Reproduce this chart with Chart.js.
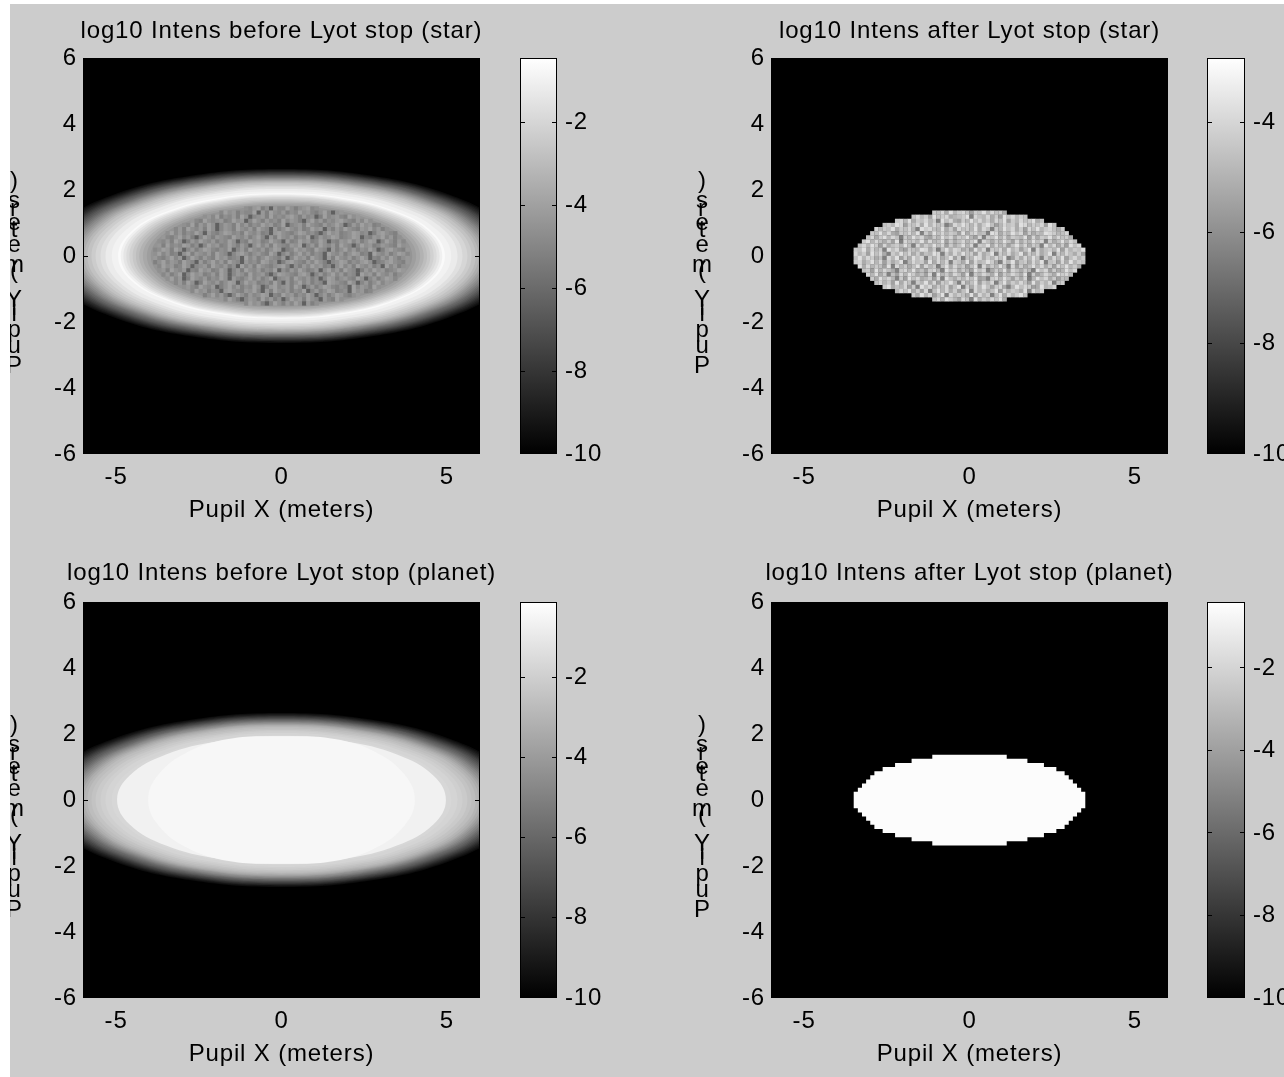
<!DOCTYPE html>
<html>
<head>
<meta charset="utf-8">
<title>Lyot stop pupil intensities</title>
<script src="https://cdn.jsdelivr.net/npm/chart.js@4"></script>
<style>
  html, body { margin: 0; background: #fff; overflow: hidden; }
  #fig { position: absolute; left: 10px; top: 4px; width: 1274px; height: 1073px; background: #ccc; overflow: hidden; }
  canvas { position: absolute; }
</style>
</head>
<body>
<div id="fig"></div>
<script>
// ---- axis ticks ----
const pupilXTicks = [-5, 0, 5];
const pupilYTicks = [-6, -4, -2, 0, 2, 4, 6];
const barTicksWide = [-2, -4, -6, -8, -10];
const barTicksStarAfter = [-4, -6, -8, -10];

// ---- colour range (log10 intensity) of each panel ----
const starBeforeMax = -0.44;
const starAfterMax = -2.84;
const planetBeforeMax = -0.13;
const planetAfterMax = -0.4;
const rangeMin = -10;

// ---- titles ----
const panelTitles = [
  'log10 Intens before Lyot stop (star)',
  'log10 Intens after Lyot stop (star)',
  'log10 Intens before Lyot stop (planet)',
  'log10 Intens after Lyot stop (planet)'
];
const xAxisTitle = 'Pupil X (meters)';
// y label: upright letters stacked over each other, baseline offset from y=0 in px
const yLabelChars = ['P', 'u', 'p', 'i', 'l', 'Y', '(', 'm', 'e', 't', 'e', 'r', 's', ')'];
const yLabelOffsets = [117, 97, 81, 65, 59, 51, 22, 16, -4, -19, -26, -40, -48, -68];

// ---- halo contours before the stop: quarter outlines, top (x=0) to tip (y=0), metres ----
const haloX = [
  [0, 2.74, 5.06, 6.61, 7.15],
  [0, 2.715, 5.01, 6.55, 7.085],
  [0, 2.69, 4.96, 6.49, 7.02],
  [0, 2.665, 4.91, 6.425, 6.95],
  [0, 2.64, 4.86, 6.36, 6.88],
  [0, 2.615, 4.815, 6.3, 6.815],
  [0, 2.59, 4.77, 6.24, 6.75],
  [0, 2.56, 4.72, 6.175, 6.68],
  [0, 2.53, 4.67, 6.11, 6.61],
  [0, 2.505, 4.625, 6.05, 6.545],
  [0, 2.48, 4.58, 5.99, 6.48],
  [0, 2.455, 4.53, 5.925, 6.41],
  [0, 2.43, 4.48, 5.86, 6.34],
  [0, 2.4, 4.43, 5.79, 6.265],
  [0, 2.37, 4.38, 5.72, 6.19],
  [0, 2.345, 4.33, 5.655, 6.12],
  [0, 2.32, 4.28, 5.59, 6.05],
  [0, 2.285, 4.215, 5.505, 5.96],
  [0, 2.25, 4.15, 5.42, 5.87],
  [0, 2.2, 4.06, 5.305, 5.745],
  [0, 2.15, 3.97, 5.19, 5.62],
  [0, 2.095, 3.865, 5.055, 5.47],
  [0, 2.04, 3.76, 4.92, 5.32],
  [0, 1.965, 3.625, 4.74, 5.13],
  [0, 1.89, 3.49, 4.56, 4.94]
];
const haloY = [
  [2.635, 2.43, 1.86, 1.01, 0],
  [2.61, 2.41, 1.845, 1.0, 0],
  [2.59, 2.39, 1.83, 0.99, 0],
  [2.57, 2.37, 1.815, 0.98, 0],
  [2.545, 2.35, 1.80, 0.97, 0],
  [2.52, 2.33, 1.785, 0.965, 0],
  [2.5, 2.31, 1.77, 0.96, 0],
  [2.48, 2.29, 1.755, 0.95, 0],
  [2.455, 2.27, 1.74, 0.94, 0],
  [2.43, 2.25, 1.72, 0.93, 0],
  [2.41, 2.23, 1.70, 0.92, 0],
  [2.39, 2.21, 1.685, 0.915, 0],
  [2.365, 2.19, 1.67, 0.91, 0],
  [2.34, 2.165, 1.655, 0.90, 0],
  [2.32, 2.14, 1.64, 0.89, 0],
  [2.295, 2.12, 1.62, 0.88, 0],
  [2.27, 2.10, 1.60, 0.87, 0],
  [2.24, 2.07, 1.58, 0.86, 0],
  [2.21, 2.04, 1.56, 0.85, 0],
  [2.17, 2.0, 1.53, 0.83, 0],
  [2.125, 1.96, 1.50, 0.81, 0],
  [2.08, 1.92, 1.47, 0.795, 0],
  [2.03, 1.88, 1.44, 0.78, 0],
  [1.965, 1.82, 1.39, 0.755, 0],
  [1.9, 1.76, 1.34, 0.73, 0]
];
const starHaloLevels = [-9.52, -9.19, -8.85, -8.47, -8.09, -7.71, -7.32, -6.94, -6.56, -6.18, -5.79, -5.41, -5.03,
  -4.65, -4.26, -3.88, -3.5, -3.12, -2.73, -2.35, -1.97, -1.59, -1.2, -0.92, -0.63];
const planetHaloLevels = [-9.51, -9.16, -8.82, -8.42, -8.03, -7.63, -7.24, -6.84, -6.45, -6.05, -5.66, -5.26, -4.87,
  -4.47, -4.08, -3.68, -3.29, -2.99, -2.7, -2.45, -2.2, -2.0, -1.81, -1.66, -1.51];

// fall-off inside the bright star ring
const starInnerX = [
  [0, 1.86, 3.44, 4.49, 4.86],
  [0, 1.83, 3.38, 4.42, 4.78],
  [0, 1.80, 3.32, 4.33, 4.69],
  [0, 1.76, 3.25, 4.25, 4.6],
  [0, 1.72, 3.18, 4.16, 4.5],
  [0, 1.69, 3.11, 4.07, 4.4],
  [0, 1.65, 3.04, 3.97, 4.3],
  [0, 1.60, 2.96, 3.87, 4.19],
  [0, 1.56, 2.88, 3.76, 4.07],
  [0, 1.51, 2.79, 3.65, 3.95]
];
const starInnerY = [
  [1.87, 1.73, 1.32, 0.72, 0],
  [1.84, 1.70, 1.30, 0.70, 0],
  [1.805, 1.67, 1.28, 0.69, 0],
  [1.77, 1.64, 1.25, 0.68, 0],
  [1.73, 1.60, 1.22, 0.66, 0],
  [1.69, 1.56, 1.19, 0.65, 0],
  [1.65, 1.52, 1.17, 0.63, 0],
  [1.61, 1.49, 1.14, 0.62, 0],
  [1.565, 1.45, 1.11, 0.60, 0],
  [1.52, 1.40, 1.07, 0.58, 0]
];
const starInnerLevels = [-1.01, -1.4, -1.78, -2.16, -2.54, -2.93, -3.31, -3.69, -4.07, -4.46];

// flat top of the planet image
const planetInnerX = [
  [0, 1.9, 3.51, 4.59, 4.97],
  [0, 1.6, 2.85, 3.72, 4.03]
];
const planetInnerY = [
  [1.93, 1.78, 1.37, 0.74, 0],
  [1.93, 1.85, 1.45, 0.77, 0]
];
const planetInnerLevels = [-0.67, -0.43];

// ---- after the stop: half width of the open stop per 0.125 m row, from y=0 upward ----
const lyotHalfWidths = [3.5, 3.5, 3.375, 3.25, 3.125, 3.0, 2.875, 2.625, 2.25, 1.75, 1.125];
const planetAfterLevel = -0.5;

// ---- star residual speckle, 0.125 m cells, top row first, digit d = log10 -6.4 + 0.3 d ----
const speckleAfterRows = [
  '768495786376958674',
  '6857396784567908658473968576',
  '785947685709684375968574869375867946',
  '675983768495867038697584796358674985768396',
  '8576947685097865947386759486075968473869578647',
  '769584376859074968576394785609847596837465987568',
  '68479586075968437596847695380769584765938476958674',
  '7958647390867594856937468579086475963847596807469586',
  '685973846759608475968374695807694857369584760958473968',
  '76948570968437659847069587463958076849573690846759385769',
  '85739684075968473659807485967384690758469375846907586473',
  '69587460859374968075846937065984758690374859607485936857',
  '78469583746905867394858076493856974085936748590673849576',
  '948576390857469385706948573690847596083746958473869574',
  '6739586407859463785096847539680475938647509683745968',
  '85947063859746380957486390758649375864907358649785',
  '749685073968457380964758693407859637480596847365',
  '6857394860759483769508469375806947586394758067',
  '794658370968475836907485963784059687349568',
  '586947380695847369085746938576490857',
  '7495836908576493857069485796',
  '684975386094758694'
];
const speckleBeforeRows = [
  '657846075586467856',
  '586746558074865746586754685067',
  '67584657486056748565786475604856754867',
  '75486567458670586475648576406857465786547586',
  '658475860576485746586745805674865475686047586745',
  '5748657486057648657486507468657458670647586547685746',
  '68574658607546875648657450786546875640586745687560478654',
  '7546857405864765486574685074865746580475687456870547685746',
  '657486047586574658605486745865074586745860547685746870586475',
  '748565874605867458647506857486547680574865748650586745765486',
  '56874860574687546580574865746870458675486507468574658604786547',
  '68574506847657486505786467548605746857465086574687450865746875',
  '75468570586475486745608574686547058674865074865746860547586467',
  '46857648650746857486507564875604786547586405687465786045786547',
  '586745860567486574608574865467850647586745068574865746085746',
  '674865705486745860574865746580647586457068574865047586745687',
  '5746805867457486057648567405876547860574685746508674865746',
  '68570486574658607546857468056748657460587467548605746875',
  '5748604865746870586745648507468574650876548605746857',
  '675486570468574658604785674860574687546508576486',
  '58674650786547685074865746580574687456086745',
  '46857405864756870548674658605746875467',
  '758640576485746058674865075486',
  '586740586475860746'
];

// ---- helpers ----
function levelToGray(level, max) {
  const t = Math.min(1, Math.max(0, (level - rangeMin) / (max - rangeMin)));
  const g = Math.round(t * 255);
  return `rgb(${g}, ${g}, ${g})`;
}

// mirror a quarter outline into a loop; one point of overlap at each end keeps the top smooth
function quarterToLoop(xs, ys) {
  const n = xs.length;
  const pts = [{ x: -xs[1], y: ys[1] }];
  for (let i = 0; i < n; i++) pts.push({ x: xs[i], y: ys[i] });
  for (let i = n - 2; i >= 0; i--) pts.push({ x: xs[i], y: -ys[i] });
  for (let i = 1; i < n; i++) pts.push({ x: -xs[i], y: -ys[i] });
  for (let i = n - 2; i >= 0; i--) pts.push({ x: -xs[i], y: ys[i] });
  pts.push({ x: xs[1], y: ys[1] });
  return pts;
}

function stopOutline(widths) {
  const s = 0.125;
  const n = widths.length;
  const pts = [];
  for (let i = n - 1; i >= 0; i--) pts.push({ x: widths[i], y: (i + 1) * s }, { x: widths[i], y: i * s });
  for (let i = 0; i < n; i++) pts.push({ x: widths[i], y: -i * s }, { x: widths[i], y: -(i + 1) * s });
  for (let i = n - 1; i >= 0; i--) pts.push({ x: -widths[i], y: -(i + 1) * s }, { x: -widths[i], y: -i * s });
  for (let i = 0; i < n; i++) pts.push({ x: -widths[i], y: i * s }, { x: -widths[i], y: (i + 1) * s });
  return pts;
}

function shapeDataset(points, level, max, tension) {
  return {
    data: points,
    showLine: true,
    fill: 'shape',
    backgroundColor: levelToGray(level, max),
    borderWidth: 0,
    pointRadius: 0,
    tension: tension
  };
}

function backgroundDataset(max) {
  const pts = [{ x: -6, y: 6 }, { x: 6, y: 6 }, { x: 6, y: -6 }, { x: -6, y: -6 }];
  return shapeDataset(pts, rangeMin, max, 0);
}

function speckleDataset(rows, max) {
  const pts = [];
  const colors = [];
  rows.forEach((row, r) => {
    const y = (rows.length / 2 - r - 0.5) * 0.125;
    for (let c = 0; c < row.length; c++) {
      pts.push({ x: (c - row.length / 2 + 0.5) * 0.125, y: y });
      colors.push(levelToGray(-6.4 + 0.3 * Number(row[c]), max));
    }
  });
  return {
    data: pts,
    showLine: false,
    pointStyle: 'rect',
    pointRadius: 3.1,
    pointHoverRadius: 3.1,
    pointBorderWidth: 0,
    pointBackgroundColor: colors
  };
}

function contourDatasets(xs, ys, levels, max) {
  return levels.map((lv, i) => shapeDataset(quarterToLoop(xs[i], ys[i]), lv, max, 0.4));
}

// ---- plugins ----
const frameBox = {
  id: 'frameBox',
  beforeDraw(chart) { chart.ctx.letterSpacing = '0.85px'; },
  afterDraw(chart) {
    const a = chart.chartArea;
    const ctx = chart.ctx;
    ctx.save();
    ctx.strokeStyle = '#000';
    ctx.lineWidth = 1;
    ctx.strokeRect(Math.round(a.left) + 0.5, Math.round(a.top) + 0.5, a.width - 1, a.height - 1);
    ctx.restore();
  }
};

const stackedYLabel = {
  id: 'stackedYLabel',
  afterDraw(chart) {
    const ctx = chart.ctx;
    const x = chart.chartArea.left - 68.5;
    const y0 = chart.scales.y.getPixelForValue(0);
    ctx.save();
    ctx.font = '24px "Liberation Sans"';
    ctx.fillStyle = '#000';
    ctx.textAlign = 'center';
    ctx.textBaseline = 'alphabetic';
    yLabelChars.forEach((ch, i) => ctx.fillText(ch, x, y0 + yLabelOffsets[i]));
    ctx.restore();
  }
};

// ---- chart building ----
Chart.defaults.font.family = '"Liberation Sans", Arial, sans-serif';
Chart.defaults.font.size = 24;
Chart.defaults.color = '#000';

const fig = document.getElementById('fig');

function addCanvas(pageLeft, pageTop, w, h) {
  const c = document.createElement('canvas');
  c.width = w;
  c.height = h;
  c.style.left = (pageLeft - 10) + 'px';
  c.style.top = (pageTop - 4) + 'px';
  fig.appendChild(c);
  return c.getContext('2d');
}

function setTicks(list) {
  return scale => { scale.ticks = list.map(v => ({ value: v })); };
}

// no tick at the very ends of an axis, the frame is there
function tickInk(c) {
  if (c.tick && (c.tick.value === c.scale.min || c.tick.value === c.scale.max)) return 'rgba(0,0,0,0)';
  return '#000';
}

function insideGrid() {
  return { drawOnChartArea: false, drawTicks: true, tickLength: -5, tickColor: tickInk, tickWidth: 1, z: 1 };
}

function fixWidth(w) {
  return s => {
    s.width = w;
    s.paddingTop = 0;
    s.paddingBottom = 0;
  };
}

function createPanel(pageLeft, pageTop, yWidth, titlePad, title, datasets) {
  // canvas is symmetric around the plot so the title centres over it
  const canvasW = 2 * yWidth + 397;
  const ctx = addCanvas(pageLeft, pageTop, canvasW, 521);
  datasets.forEach((d, i) => { d.order = -i; });
  new Chart(ctx, {
    type: 'scatter',
    data: { datasets: datasets },
    plugins: [frameBox, stackedYLabel],
    options: {
      responsive: false,
      animation: false,
      events: [],
      layout: { autoPadding: false, padding: 0 },
      plugins: {
        legend: { display: false },
        tooltip: { enabled: false },
        title: {
          display: true,
          text: title,
          font: { size: 24, weight: 'normal' },
          padding: { top: titlePad, bottom: 54 - 28.8 - titlePad }
        }
      },
      scales: {
        x: {
          type: 'linear',
          min: -6,
          max: 6,
          afterBuildTicks: setTicks(pupilXTicks),
          afterFit: s => { s.height = 71; },
          border: { display: false },
          grid: insideGrid(),
          ticks: { padding: 14, maxRotation: 0, autoSkip: false },
          title: { display: true, text: xAxisTitle, padding: 0, font: { size: 24 } }
        },
        y: {
          type: 'linear',
          min: -6,
          max: 6,
          afterBuildTicks: setTicks(pupilYTicks),
          afterFit: fixWidth(yWidth),
          border: { display: false },
          grid: insideGrid(),
          ticks: { padding: 11, autoSkip: false }
        },
        yRight: {
          type: 'linear',
          position: 'right',
          min: -6,
          max: 6,
          afterBuildTicks: setTicks(pupilYTicks),
          afterFit: fixWidth(yWidth),
          border: { display: false },
          grid: insideGrid(),
          ticks: { display: false }
        }
      }
    }
  });
}

function createColorbar(pageLeft, pageTop, canvasW, barW, max, tickList) {
  const ctx = addCanvas(pageLeft, pageTop - 8, canvasW, 418);
  new Chart(ctx, {
    type: 'bar',
    data: {
      labels: [''],
      datasets: [{
        data: [[rangeMin, max]],
        barPercentage: 1,
        categoryPercentage: 1,
        borderWidth: 0,
        backgroundColor(c) {
          const a = c.chart.chartArea;
          if (!a) return '#888';
          const grad = c.chart.ctx.createLinearGradient(0, a.bottom, 0, a.top);
          grad.addColorStop(0, '#000');
          grad.addColorStop(1, '#fff');
          return grad;
        }
      }]
    },
    plugins: [frameBox],
    options: {
      responsive: false,
      animation: false,
      events: [],
      layout: { autoPadding: false, padding: { left: 18, right: 0, top: 8, bottom: 14 } },
      plugins: { legend: { display: false }, tooltip: { enabled: false }, title: { display: false } },
      scales: {
        x: { display: false },
        y: {
          type: 'linear',
          position: 'right',
          min: rangeMin,
          max: max,
          afterBuildTicks: setTicks(tickList),
          afterFit: fixWidth(canvasW - 18 - barW),
          border: { display: false },
          grid: insideGrid(),
          ticks: { padding: 13, autoSkip: false }
        },
        yLeft: {
          type: 'linear',
          position: 'left',
          min: rangeMin,
          max: max,
          afterBuildTicks: setTicks(tickList),
          afterFit: fixWidth(0),
          border: { display: false },
          grid: insideGrid(),
          ticks: { display: false }
        }
      }
    }
  });
}

// top left: star before the stop
createPanel(10, 4, 73, 13, panelTitles[0], [
  backgroundDataset(starBeforeMax),
  ...contourDatasets(haloX, haloY, starHaloLevels, starBeforeMax),
  ...contourDatasets(starInnerX, starInnerY, starInnerLevels, starBeforeMax),
  speckleDataset(speckleBeforeRows, starBeforeMax)
]);
createColorbar(502, 58, 100, 37, starBeforeMax, barTicksWide);

// top right: star after the stop
createPanel(690, 4, 81, 13, panelTitles[1], [
  backgroundDataset(starAfterMax),
  speckleDataset(speckleAfterRows, starAfterMax)
]);
createColorbar(1189, 58, 95, 38, starAfterMax, barTicksStarAfter);

// bottom left: planet before the stop
createPanel(10, 548, 73, 11, panelTitles[2], [
  backgroundDataset(planetBeforeMax),
  ...contourDatasets(haloX, haloY, planetHaloLevels, planetBeforeMax),
  ...contourDatasets(planetInnerX, planetInnerY, planetInnerLevels, planetBeforeMax)
]);
createColorbar(502, 602, 100, 37, planetBeforeMax, barTicksWide);

// bottom right: planet after the stop
createPanel(690, 548, 81, 11, panelTitles[3], [
  backgroundDataset(planetAfterMax),
  shapeDataset(stopOutline(lyotHalfWidths), planetAfterLevel, planetAfterMax, 0)
]);
createColorbar(1189, 602, 95, 38, planetAfterMax, barTicksWide);
</script>
</body>
</html>
